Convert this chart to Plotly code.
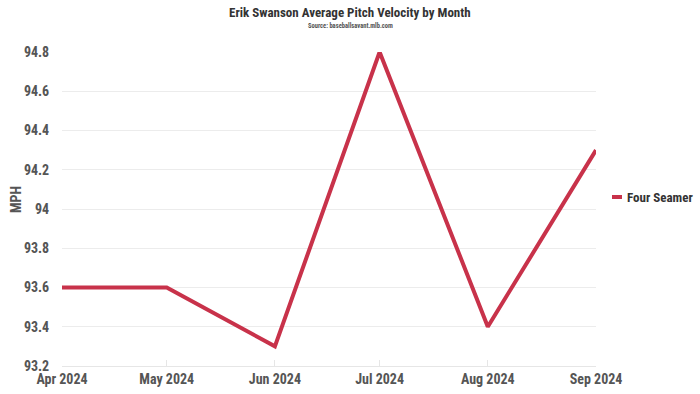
import plotly.graph_objects as go

months = ["2024-04-01", "2024-05-01", "2024-06-01", "2024-07-01", "2024-08-01", "2024-09-01"]
tick_labels = ["Apr 2024", "May 2024", "Jun 2024", "Jul 2024", "Aug 2024", "Sep 2024"]
four_seamer = [93.6, 93.6, 93.3, 94.8, 93.4, 94.3]
y_ticks = [93.2, 93.4, 93.6, 93.8, 94.0, 94.2, 94.4, 94.6, 94.8]
y_tick_text = ["93.2", "93.4", "93.6", "93.8", "94", "94.2", "94.4", "94.6", "94.8"]
series_name = "Four Seamer"

FONT = "Roboto Condensed, Liberation Sans Narrow, Arial Narrow, DejaVu Sans Condensed, sans-serif"
GRAY = "#555555"
DARK = "#333333"
RED = "#c8324a"

W, H = 700, 394
L, R, T, B = 62, 104, 52, 28
PW, PH = W - L - R, H - T - B


def px_x(px):
    return (px - L) / PW


def px_y(py):
    return (H - B - py) / PH


fig = go.Figure()
fig.add_trace(go.Scatter(
    x=months, y=four_seamer, mode="lines", name=series_name,
    line=dict(color=RED, width=4), showlegend=False,
))

fig.update_layout(
    width=W, height=H,
    paper_bgcolor="white", plot_bgcolor="white",
    margin=dict(l=L, r=R, t=T, b=B, autoexpand=False),
    font=dict(family=FONT, color=GRAY, size=14, weight="bold"),
    xaxis=dict(
        type="date", tickvals=months, ticktext=tick_labels,
        range=["2024-04-01", "2024-09-01"],
        showgrid=False, showline=True, linecolor="#e6e6e6", linewidth=1,
        ticks="inside", ticklen=6, tickcolor="#e6e6e6",
        tickfont=dict(size=14, color=GRAY, family=FONT, weight="bold"),
        zeroline=False, automargin=False,
    ),
    yaxis=dict(
        range=[93.2, 94.8], tickvals=y_ticks, ticktext=y_tick_text,
        showgrid=True, gridcolor="#ececec", gridwidth=1,
        tickfont=dict(size=14, color=GRAY, family=FONT, weight="bold"),
        ticks="outside", ticklen=9, tickcolor="rgba(0,0,0,0)",
        zeroline=False, automargin=False,
    ),
    showlegend=False,
)

# Axis title
fig.add_annotation(
    text="MPH", xref="paper", yref="paper", x=px_x(16), y=px_y(200),
    xanchor="center", yanchor="middle", textangle=-90, showarrow=False,
    font=dict(size=14, color=GRAY, family=FONT, weight="bold"),
)

# Title and subtitle
fig.add_annotation(
    text="Erik Swanson Average Pitch Velocity by Month",
    xref="paper", yref="paper", x=px_x(350), y=px_y(13),
    xanchor="center", yanchor="middle", showarrow=False,
    font=dict(size=13, color=DARK, family=FONT, weight="bold"),
)
fig.add_annotation(
    text="Source: baseballsavant.mlb.com",
    xref="paper", yref="paper", x=px_x(350), y=px_y(26),
    xanchor="center", yanchor="middle", showarrow=False,
    font=dict(size=6.5, color=GRAY, family=FONT, weight="bold"),
)

# Custom legend (short line + label)
fig.add_shape(
    type="line", xref="paper", yref="paper",
    x0=px_x(612), x1=px_x(622), y0=px_y(197), y1=px_y(197),
    line=dict(color=RED, width=4),
)
fig.add_annotation(
    text=series_name, xref="paper", yref="paper",
    x=px_x(625), y=px_y(197), xanchor="left", yanchor="middle", showarrow=False,
    font=dict(size=13, color=DARK, family=FONT, weight="bold"),
)

fig.write_html("out.html", config={"displayModeBar": False},
               post_script="document.body.style.margin='0';")
